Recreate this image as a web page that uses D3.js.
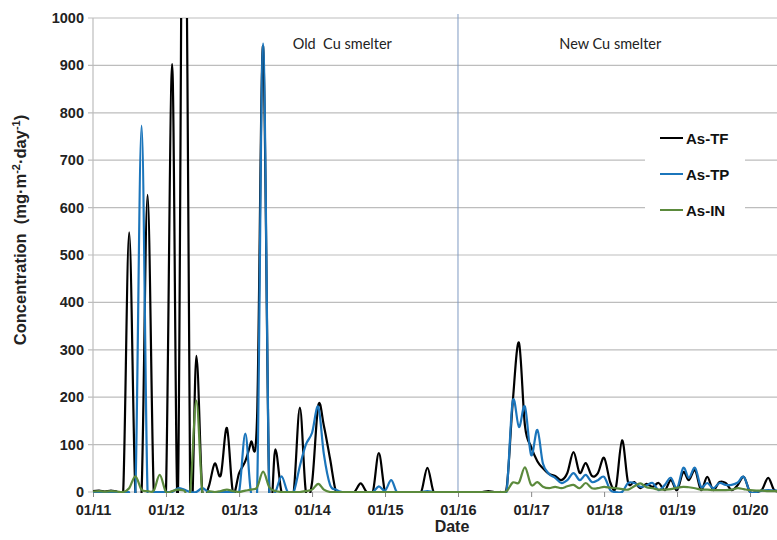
<!DOCTYPE html>
<html>
<head>
<meta charset="utf-8">
<script src="https://cdn.jsdelivr.net/npm/d3@7"></script>
<style>
  body { margin: 0; background: #fff; }
  svg { display: block; font-family: "Liberation Sans", Arial, sans-serif; }
</style>
</head>
<body>
<svg width="777" height="540"></svg>
<script>
// monthly samples, Jan 2011 .. Jun 2020 (one row per year)
let tfValues = [
  2, 3, 1, 3, 1, 0, 548, 0, 0, 627, 0, 0,
  0, 903, 0, 1800, 0, 287, 0, 10, 60, 35, 135, 0,
  40, 65, 105, 160, 940, 0, 90, 0, 0, 0, 178, 0,
  20, 183, 140, 70, 0, 0, 0, 0, 18, 0, 0, 82,
  0, 0, 0, 0, 0, 0, 0, 51, 0, 0, 0, 0,
  0, 0, 0, 0, 0, 2, 0, 0, 10, 190, 315, 140,
  95, 65, 50, 38, 34, 25, 40, 84, 40, 61, 34, 40,
  72, 20, 10, 109, 20, 21, 8, 17, 11, 19, 4, 25,
  4, 42, 25, 46, 4, 32, 4, 21, 19, 4, 15, 32,
  0, 0, 5, 30, 4, 3
];
let tpValues = [
  0, 0, 0, 0, 0, 0, 0, 0, 773, 0, 0, 0,
  0, 0, 8, 5, 0, 0, 8, 0, 0, 0, 0, 0,
  0, 123, 0, 0, 946, 0, 0, 33, 0, 0, 55, 100,
  125, 180, 80, 15, 5, 0, 0, 0, 0, 0, 0, 12,
  3, 25, 0, 0, 0, 0, 0, 2, 0, 0, 0, 0,
  0, 0, 0, 0, 0, 0, 0, 0, 5, 192, 137, 180,
  78, 131, 60, 38, 30, 19, 25, 40, 25, 36, 21, 25,
  32, 4, 0, 0, 19, 19, 11, 14, 19, 4, 15, 30,
  8, 51, 30, 51, 11, 19, 8, 19, 15, 15, 20, 32,
  0, 0, 3, 4, 3, 3
];
let inValues = [
  1, 2, 1, 2, 1, 0, 8, 33, 5, 2, 3, 36,
  0, 2, 5, 3, 0, 193, 0, 2, 0, 2, 5, 2,
  0, 3, 5, 10, 43, 10, 2, 0, 0, 0, 0, 2,
  5, 17, 5, 0, 0, 0, 0, 0, 0, 0, 0, 0,
  0, 0, 0, 0, 0, 0, 0, 0, 0, 0, 0, 0,
  0, 0, 0, 0, 0, 0, 0, 0, 2, 20, 20, 52,
  15, 21, 11, 8, 11, 8, 12, 15, 8, 19, 8, 8,
  11, 9, 8, 6, 5, 12, 18, 10, 8, 5, 5, 6,
  9, 11, 10, 8, 5, 5, 4, 4, 4, 5, 8, 6,
  4, 3, 3, 2, 2, 2
];
let seriesNames = ["As-TF", "As-TP", "As-IN"];
let seriesColors = ["#000000", "#1b75bb", "#5b8a3c"];
let yTicks = [0, 100, 200, 300, 400, 500, 600, 700, 800, 900, 1000];
let periods = [
  { label: "Old  Cu smelter", date: new Date(2014, 5, 1) },
  { label: "New Cu smelter", date: new Date(2018, 1, 1) }
];
let splitDate = new Date(2016, 0, 1);

let months = d3.timeMonth.range(new Date(2011, 0, 1), new Date(2020, 6, 1));

let svg = d3.select('svg');
let mLeft = 93, mTop = 18, mBottom = 492, mRight = 777;

let x = d3.scaleTime()
  .domain([new Date(2011, 0, 1), new Date(2020, 4, 15)])
  .range([mLeft, mRight]);
let y = d3.scaleLinear().domain([0, 1000]).range([mBottom, mTop]);

// grid
svg.append('g')
  .selectAll('line')
  .data(yTicks)
  .join('line')
  .attr('x1', mLeft - 5)
  .attr('x2', mRight)
  .attr('y1', d => y(d))
  .attr('y2', d => y(d))
  .attr('stroke', '#bdbdbd')
  .attr('stroke-width', 1.2);

svg.append('line')
  .attr('x1', mLeft).attr('x2', mLeft)
  .attr('y1', mTop).attr('y2', mBottom)
  .attr('stroke', '#bdbdbd').attr('stroke-width', 1.2);

// y labels
svg.append('g')
  .selectAll('text')
  .data(yTicks)
  .join('text')
  .attr('x', mLeft - 9)
  .attr('y', d => y(d) + 5)
  .attr('text-anchor', 'end')
  .attr('font-size', 14.5)
  .attr('font-weight', 'bold')
  .attr('fill', '#222')
  .text(d => d);

// x axis
let xAxis = d3.axisBottom(x)
  .ticks(d3.timeYear.every(1))
  .tickFormat(d3.timeFormat('%m/%y'))
  .tickSize(5)
  .tickSizeOuter(0);
let gx = svg.append('g')
  .attr('transform', `translate(0,${mBottom})`)
  .call(xAxis);
gx.select('.domain').remove();
gx.selectAll('line').attr('stroke', '#888');
gx.selectAll('text')
  .attr('font-size', 14.5)
  .attr('font-weight', 'bold')
  .attr('fill', '#222')
  .attr('dy', '1.0em')
  .attr('font-family', '"Liberation Sans", Arial, sans-serif');

// divider
svg.append('line')
  .attr('x1', x(splitDate)).attr('x2', x(splitDate))
  .attr('y1', 14).attr('y2', mBottom)
  .attr('stroke', '#7f9bc2').attr('stroke-width', 1);

svg.append('g')
  .selectAll('text')
  .data(periods)
  .join('text')
  .attr('x', d => x(d.date))
  .attr('y', 49)
  .attr('text-anchor', 'middle')
  .attr('font-family', 'Lato, "Open Sans", sans-serif')
  .attr('font-size', 14.5)
  .attr('fill', '#222')
  .style('white-space', 'pre')
  .text(d => d.label);

// lines
svg.append('clipPath').attr('id', 'plot')
  .append('rect')
  .attr('x', mLeft).attr('y', mTop)
  .attr('width', mRight - mLeft).attr('height', mBottom - mTop + 1);

let line = d3.line()
  .x((d, i) => x(months[i]))
  .y(d => y(d))
  .curve(d3.curveCardinal.tension(0));

svg.append('g')
  .attr('clip-path', 'url(#plot)')
  .selectAll('path')
  .data([tfValues, tpValues, inValues])
  .join('path')
  .attr('d', line)
  .attr('fill', 'none')
  .attr('stroke', (d, i) => seriesColors[i])
  .attr('stroke-width', 2.2)
  .attr('stroke-linejoin', 'round');

// legend
let legend = svg.append('g');
legend.append('rect')
  .attr('x', 645).attr('y', 124)
  .attr('width', 100).attr('height', 104)
  .attr('fill', '#fff');
let item = legend.selectAll('g')
  .data(seriesNames)
  .join('g')
  .attr('transform', (d, i) => `translate(660,${138 + i * 36})`);
item.append('line')
  .attr('x1', 0).attr('x2', 23)
  .attr('stroke', (d, i) => seriesColors[i])
  .attr('stroke-width', 2);
item.append('text')
  .attr('x', 26).attr('y', 5.5)
  .attr('font-size', 15)
  .attr('font-weight', 'bold')
  .attr('fill', '#111')
  .text(d => d);

// axis titles
svg.append('text')
  .attr('x', x(splitDate) - 6)
  .attr('y', 532)
  .attr('text-anchor', 'middle')
  .attr('font-size', 16)
  .attr('font-weight', 'bold')
  .attr('fill', '#222')
  .text('Date');

let yt = svg.append('text')
  .attr('transform', 'translate(26,230) rotate(-90)')
  .attr('text-anchor', 'middle')
  .attr('font-size', 16.5)
  .attr('font-weight', 'bold')
  .attr('fill', '#222')
  .style('white-space', 'pre');
yt.append('tspan').text('Concentration  (mg·m');
yt.append('tspan').attr('dy', -6).attr('font-size', 11).text('-2');
yt.append('tspan').attr('dy', 6).text('·day');
yt.append('tspan').attr('dy', -6).attr('font-size', 11).text('-1');
yt.append('tspan').attr('dy', 6).text(')');
</script>
</body>
</html>
